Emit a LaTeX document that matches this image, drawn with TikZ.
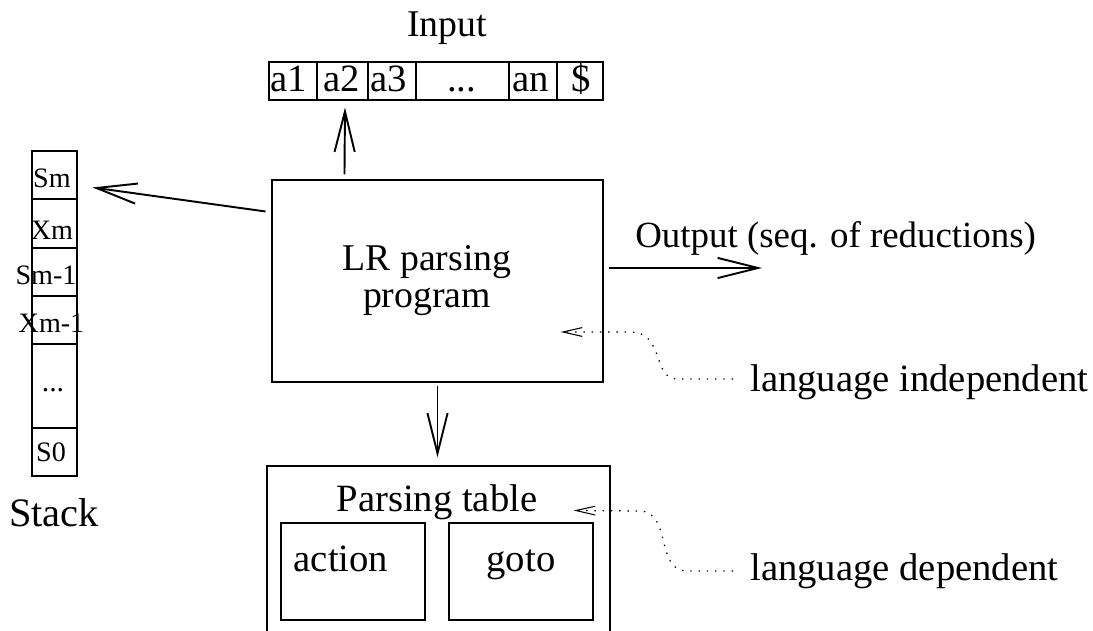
\documentclass[tikz,border=0pt]{standalone}
\usepackage{fontspec}
\setmainfont{Liberation Serif}
\usetikzlibrary{arrows.meta,fit,calc}
\newcommand\mythreedots{...}
\begin{document}
\begin{tikzpicture}[x=0.02cm,y=-0.02cm,
  box/.style={draw,line width=0.6pt,inner sep=0pt},
  lbl/.style={font=\fontsize{21.5}{25}\selectfont,inner sep=0pt,anchor=base},
  biglbl/.style={font=\fontsize{22}{26}\selectfont,inner sep=0pt,anchor=base west},
  slbl/.style={font=\fontsize{16}{19}\selectfont,inner sep=0pt,anchor=base},
  arr/.style={line width=1.1pt,-{Straight Barb[length=23pt,width=11.5pt,line width=1.1pt]}},
  dotarr/.style={line width=0.7pt,dash pattern=on 0.8pt off 3.9pt,-{Straight Barb[length=11pt,width=5pt,line width=0.6pt]}}]
\clip (0,0) rectangle (1093,631);
% Input tape
\node[lbl] (inlbl) at (447,37) {Input};
\foreach \l/\r/\t/\dx [count=\i] in {269/317/a1/-4,317/368/a2/-1,368/416/a3/-3,416/509/\mythreedots/-1,509/557/an/-2,557/603/\$/1}{
  \node[box,fit={(\l,62)(\r,100)}] (in\i) {};
  \node[lbl,font=\fontsize{22}{26}\selectfont] (int\i) at ($(\l,92)!0.5!(\r,92)+(\dx,0)$) {\t};
}
% Stack
\node[box,fit={(32,151)(77,476)}] (stack) {};
\foreach \y in {199,248,296,344,428}{
  \draw[line width=0.6pt] (32,\y) -- (77,\y);
}
\node[slbl] (s1) at (52,188) {Sm};
\node[slbl] (s2) at (52,240) {Xm};
\node[slbl] (s3) at (46,285) {Sm-1};
\node[slbl] (s4) at (51.5,333) {Xm-1};
\node[slbl,font=\fontsize{17}{20}\selectfont] (s5) at (53,392) {...};
\node[slbl] (s6) at (51,462) {S0};
\node[lbl,font=\fontsize{23}{27}\selectfont] (stlbl) at (54,527) {Stack};
% LR parsing program
\node[box,fit={(272,180)(603,382)}] (lr) {};
\node[lbl] (lrt1) at (427,271) {LR parsing};
\node[lbl] (lrt2) at (427,308) {program};
% Output
\node[lbl,font=\fontsize{21}{25}\selectfont,anchor=base west] (outlbl) at (635,248) {Output (seq. of reductions)};
\coordinate (out) at (762,268);
% Parsing table
\node[box,fit={(267,466)(610,680)}] (tbl) {};
\node[lbl,font=\fontsize{22}{26}\selectfont] (tbllbl) at (437,512) {Parsing table};
\node[box,fit={(281,523)(425,620)}] (act) {};
\node[lbl,font=\fontsize{22}{26}\selectfont] (actlbl) at (341,572) {action};
\node[box,fit={(449,523)(593,620)}] (gto) {};
\node[lbl,font=\fontsize{22}{26}\selectfont] (gtolbl) at (521,572) {goto};
% side labels
\node[biglbl] (li) at (750,392) {language independent};
\node[biglbl] (ld) at (750,581) {language dependent};
% arrows
\draw[arr] ($(lr.north west)+(73,-5)$) -- ($(in2.south)+(2.5,7)$);
\draw[arr] ($(lr.north west)+(-6,32)$) -- ($(stack.north east)+(15,37)$);
\draw[arr] ($(lr.east)+(5,-13)$) -- (out);
\draw[arr] ($(lr.south)+(0,3)$) -- ($(tbl.north)+(-1,-8)$);
\draw[dotarr] ($(li.base west)+(-17,-13)$) -- (677,379) .. controls (652,379) and (665,332) .. (630,332) -- ($(lr.east)+(-43,51)$);
\draw[dotarr] ($(ld.base west)+(-17,-10)$) -- (687,571) .. controls (655,571) and (672,512) .. (640,511) -- ($(tbl.north east)+(-37,45)$);
\end{tikzpicture}
\end{document}
